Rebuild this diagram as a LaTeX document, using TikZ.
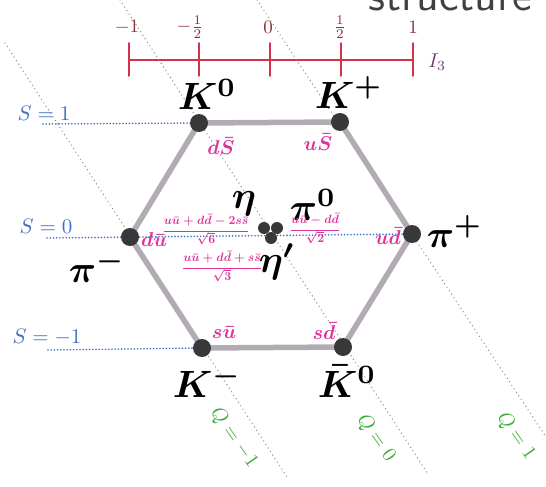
\documentclass[tikz,border=0pt]{standalone}
\usepackage{amsmath,amssymb}
\usepackage{tikz}
\usetikzlibrary{positioning}
\definecolor{hexgray}{HTML}{B3ABB3}
\definecolor{dotgray}{HTML}{383838}
\definecolor{quarkpink}{HTML}{E0309A}
\definecolor{strangeblue}{HTML}{3D6FC6}
\definecolor{chargegreen}{HTML}{3DAA3D}
\definecolor{chargegray}{HTML}{8A8A8A}
\definecolor{isored}{HTML}{D6304E}
\definecolor{isolabel}{HTML}{8A2E3A}
\definecolor{isoname}{HTML}{7A3A70}
\tikzset{
  every picture/.append style={line cap=round,line join=round},
  octet edge/.style={hexgray,line width=5.5pt},
  octet vertex/.style={circle,fill=dotgray,inner sep=0pt,minimum size=18pt},
  octet centre/.style={circle,fill=dotgray,inner sep=0pt,minimum size=12pt},
  strange line/.style={strangeblue,line width=1.8pt,dash pattern=on 0pt off 3.2pt},
  charge line/.style={chargegray,line width=1.4pt,dash pattern=on 0pt off 4.2pt},
  meson name/.style={inner sep=0pt,anchor=base west,scale=3.8,font=\boldmath},
  quark note/.style={text=quarkpink,inner sep=0pt,scale=2,font=\boldmath},
  quark mix/.style={text=quarkpink,inner sep=0pt,scale=1.2,font=\boldmath},
  strange note/.style={text=strangeblue,inner sep=0pt,scale=2.1},
  charge note/.style={text=chargegreen,inner sep=0pt,rotate=-55,scale=2},
  iso tick/.style={isored,line width=1.5pt},
  iso note/.style={text=isolabel,inner sep=0pt,scale=1.9}
}
\begin{document}
\begin{tikzpicture}[x=1pt,y=-1pt]
  \useasboundingbox[fill=white] (0,0) rectangle (546,487);
  % title, cut by the top edge
  \node[anchor=base west,inner sep=0pt,text=black!75,scale=4.4,font=\sffamily] (title) at (368,11) {structure};

  % isospin axis
  \coordinate (isoL) at (129,60);
  \coordinate (isoR) at (413,60);
  \draw[iso tick] (isoL) -- (isoR);
  \foreach \x/\lx/\lab [count=\i] in {129/127/{-1},199/190/{-\frac{1}{2}},270/268/{0},341/340/{\frac{1}{2}},413/413/{1}} {
    \coordinate (tickT\i) at (\x,43);
    \coordinate (tickB\i) at (\x,76);
    \draw[iso tick] (tickT\i) -- (tickB\i);
    \node[iso note] (isolab\i) at (\lx,27) {$\lab$};
  }
  \node[text=isoname,inner sep=0pt,anchor=west,scale=2] (isoname) at (428,62) {$I_3$};

  % charge lines
  \coordinate (qmA) at (5,43);    \coordinate (qmB) at (287,477);
  \coordinate (qzA) at (120,0);   \coordinate (qzB) at (428,474);
  \coordinate (qpA) at (257,0);   \coordinate (qpB) at (546,437);
  \draw[charge line] (qmA) -- (qmB);
  \draw[charge line] (qzA) -- (qzB);
  \draw[charge line] (qpA) -- (qpB);
  \node[charge note] (qm) at (234,438) {$Q=-1$};
  \node[charge note] (qz) at (376,438) {$Q=0$};
  \node[charge note] (qp) at (516,436) {$Q=1$};

  % the nonet corners
  \coordinate (Kz)  at (199,123);
  \coordinate (Kp)  at (340,122);
  \coordinate (pip) at (412,234);
  \coordinate (Kzb) at (343,347);
  \coordinate (Km)  at (202,348);
  \coordinate (pim) at (130,237);

  % strangeness lines
  \coordinate (sone)  at (43,124);
  \coordinate (szero) at (47,238);
  \coordinate (smone) at (48,350);
  \draw[strange line] (sone) -- (Kz);
  \draw[strange line] (szero) -- (pip);
  \draw[strange line] (smone) -- (Km);
  \node[strange note] (sonelab)  at (44,113) {$S=1$};
  \node[strange note] (szerolab) at (46,226) {$S=0$};
  \node[strange note] (smonelab) at (47,337) {$S=-1$};

  \draw[octet edge] (Kz) -- (Kp) -- (pip) -- (Kzb) -- (Km) -- (pim) -- cycle;
  \foreach \v in {Kz,Kp,pip,Kzb,Km,pim}
    \node[octet vertex] (dot\v) at (\v) {};
  \node[octet centre] (eta)   at (264,228) {};
  \node[octet centre] (pizero) at (277,228) {};
  \node[octet centre] (etap)  at (271,238) {};

  % meson names
  \node[meson name] (nKz)  at (177,110) {$K^0$};
  \node[meson name] (nKp)  at (314,108) {$K^+$};
  \node[meson name] (npip) at (426,247) {$\pi^+$};
  \node[meson name] (npim) at (68,282)  {$\pi^-$};
  \node[meson name] (nKm)  at (172,397) {$K^-$};
  \node[meson name] (nKzb) at (317,397) {$\bar{K}^0$};
  \node[meson name] (neta) at (231,208) {$\eta$};
  \node[meson name] (npiz) at (289,220) {$\pi^0$};
  \node[meson name] (netap) at (258,272) {$\eta'$};

  % quark content
  \node[quark note] (qKz)  at (221,146) {$d\bar{S}$};
  \node[quark note] (qKp)  at (318,142) {$u\bar{S}$};
  \node[quark note] (qpim) at (154,240) {$d\bar{u}$};
  \node[quark note] (qpip) at (388,236) {$u\bar{d}$};
  \node[quark note] (qKm)  at (224,333) {$s\bar{u}$};
  \node[quark note] (qKzb) at (324,331) {$s\bar{d}$};
  \node[quark mix] (qeta)  at (206,230) {$\dfrac{u\bar{u}+d\bar{d}-2s\bar{s}}{\sqrt{6}}$};
  \node[quark mix] (qpiz)  at (315,229) {$\dfrac{u\bar{u}-d\bar{d}}{\sqrt{2}}$};
  \node[quark mix] (qetap) at (222,267) {$\dfrac{u\bar{u}+d\bar{d}+s\bar{s}}{\sqrt{3}}$};
\end{tikzpicture}
\end{document}
